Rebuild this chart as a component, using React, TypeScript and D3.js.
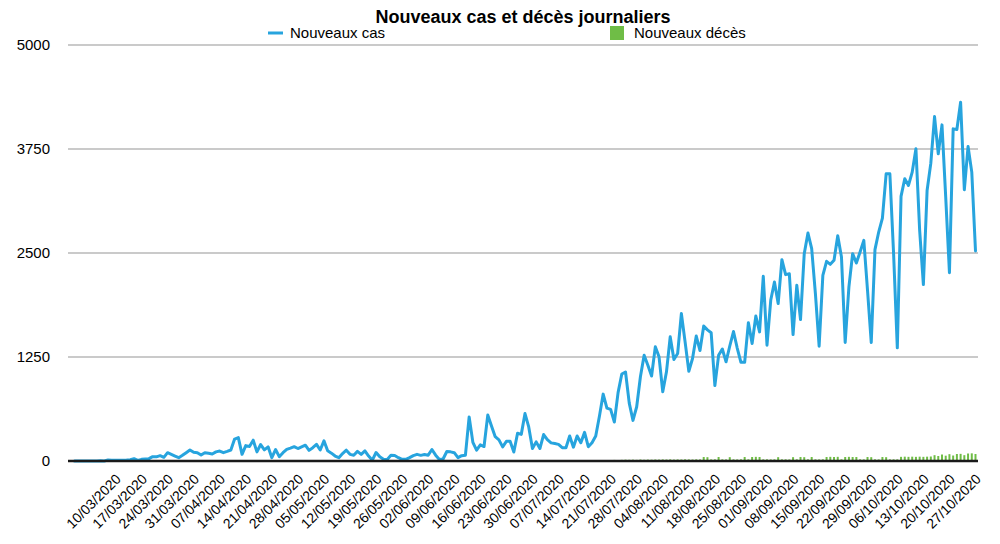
import React from "react";
import * as d3 from "d3";

const startDay = "2020-03-04";

const cases: number[] = [
  0, 0, 0, 0, 0, 0, 1, 2, 1, 11,
  10, 10, 9, 10, 12, 15, 28, 8, 20, 24,
  28, 52, 50, 64, 44, 100, 80, 60, 40, 68,
  100, 132, 104, 100, 72, 100, 92, 84, 110, 120,
  100, 115, 132, 264, 281, 80, 185, 175, 250, 110,
  198, 134, 170, 40, 138, 52, 100, 140, 155, 172,
  150, 170, 190, 128, 160, 200, 132, 242, 122, 94,
  60, 40, 90, 130, 80, 70, 116, 80, 122, 60,
  10, 102, 50, 22, 18, 68, 66, 40, 20, 20,
  40, 64, 80, 68, 78, 70, 138, 70, 18, 24,
  114, 110, 100, 40, 64, 70, 530, 224, 130, 194,
  174, 552, 420, 292, 254, 170, 236, 236, 108, 334,
  320, 570, 410, 150, 230, 150, 318, 256, 218, 210,
  200, 160, 160, 300, 166, 300, 220, 344, 172, 220,
  300, 540, 804, 636, 620, 468, 822, 1046, 1070, 696,
  488, 652, 1012, 1272, 1152, 1022, 1372, 1252, 832, 1072,
  1492, 1220, 1292, 1772, 1432, 1078, 1232, 1502, 1328, 1622,
  1576, 1542, 906, 1270, 1346, 1192, 1382, 1556, 1358, 1186,
  1186, 1662, 1412, 1742, 1552, 2220, 1392, 1932, 2152, 1892,
  2420, 2240, 2250, 1520, 2112, 1700, 2492, 2740, 2552, 2012,
  1380, 2232, 2400, 2364, 2412, 2708, 2452, 1424, 2092, 2492,
  2380, 2512, 2652, 2052, 1424, 2540, 2752, 2920, 3452, 3452,
  2492, 1360, 3180, 3392, 3312, 3472, 3752, 2772, 2120, 3252,
  3580, 4140, 3692, 4040, 3172, 2264, 3992, 3984, 4312, 3260,
  3780, 3472, 2524,
];

const deaths: number[] = [
  0, 0, 0, 0, 0, 0, 1, 0, 0, 1,
  0, 1, 0, 1, 0, 1, 1, 3, 2, 2,
  3, 4, 3, 3, 5, 3, 6, 5, 7, 9,
  10, 10, 8, 9, 6, 7, 8, 5, 6, 8,
  6, 5, 5, 6, 4, 5, 3, 4, 3, 4,
  2, 3, 2, 2, 3, 1, 2, 3, 2, 1,
  2, 1, 0, 2, 1, 3, 1, 2, 1, 0,
  1, 2, 1, 2, 1, 0, 1, 1, 2, 0,
  1, 1, 2, 1, 0, 1, 0, 1, 1, 1,
  0, 0, 1, 2, 1, 0, 1, 1, 0, 1,
  1, 0, 0, 1, 1, 0, 1, 2, 2, 1,
  1, 0, 2, 3, 1, 2, 1, 2, 3, 2,
  4, 3, 2, 4, 3, 5, 3, 4, 5, 6,
  3, 4, 5, 4, 6, 5, 8, 7, 9, 10,
  8, 11, 9, 12, 10, 13, 11, 14, 16, 15,
  16, 14, 18, 15, 17, 16, 18, 17, 19, 18,
  20, 17, 19, 18, 20, 19, 18, 20, 19, 48,
  46, 19, 20, 48, 20, 19, 46, 20, 19, 20,
  48, 20, 48, 50, 48, 20, 20, 19, 20, 46,
  20, 20, 19, 46, 20, 48, 46, 20, 48, 20,
  19, 20, 48, 50, 48, 50, 20, 48, 50, 48,
  48, 20, 19, 48, 46, 20, 19, 48, 46, 20,
  20, 20, 50, 52, 50, 52, 50, 52, 50, 52,
  54, 70, 60, 78, 64, 82, 66, 84, 86, 70,
  90, 92, 84,
];

const tickLabels: string[] = [
  "10/03/2020", "17/03/2020", "24/03/2020", "31/03/2020", "07/04/2020",
  "14/04/2020", "21/04/2020", "28/04/2020", "05/05/2020", "12/05/2020",
  "19/05/2020", "26/05/2020", "02/06/2020", "09/06/2020", "16/06/2020",
  "23/06/2020", "30/06/2020", "07/07/2020", "14/07/2020", "21/07/2020",
  "28/07/2020", "04/08/2020", "11/08/2020", "18/08/2020", "25/08/2020",
  "01/09/2020", "08/09/2020", "15/09/2020", "22/09/2020", "29/09/2020",
  "06/10/2020", "13/10/2020", "20/10/2020", "27/10/2020",
];

const yTicks: number[] = [0, 1250, 2500, 3750, 5000];

const title = "Nouveaux cas et décès journaliers";
const seriesNames = ["Nouveaux cas", "Nouveaux décès"];

const FONT = "'Liberation Sans', Arial, Helvetica, sans-serif";
const BLUE = "#27a4de";
const GREEN = "#6fbd46";

export default function App() {
  const parse = d3.timeParse("%Y-%m-%d");
  const fmt = d3.timeFormat("%d/%m/%Y");
  const start = parse(startDay) as Date;
  const dates = cases.map((_, i) => fmt(d3.timeDay.offset(start, i)));

  const left = 68;
  const right = 978;
  const x = d3.scalePoint<string>().domain(dates).range([74.5, 975.5]);
  const y = d3.scaleLinear().domain([0, 5000]).range([461, 45]);

  const line = d3
    .line<number>()
    .x((_, i) => x(dates[i]) as number)
    .y((d) => y(d));

  const barW = 2;

  return (
    <svg
      width={1000}
      height={544}
      style={{ position: "absolute", left: 0, top: 0, background: "#fff" }}
      fontFamily={FONT}
    >
      <rect x={0} y={0} width={1000} height={544} fill="#fff" />
      <text x={523} y={23} textAnchor="middle" fontSize={18} fontWeight="bold" fill="#000">
        {title}
      </text>

      {/* legend */}
      <line x1={268} x2={283} y1={33} y2={33} stroke={BLUE} strokeWidth={3} />
      <text x={290} y={33} dy="0.35em" fontSize={15} fill="#000">
        {seriesNames[0]}
      </text>
      <rect x={610} y={26} width={14} height={14} fill={GREEN} />
      <text x={634} y={33} dy="0.35em" fontSize={15} fill="#000">
        {seriesNames[1]}
      </text>

      {/* grid */}
      {yTicks.filter((t) => t > 0).map((t) => (
        <line key={t} x1={left} x2={right} y1={y(t)} y2={y(t)} stroke="#b8b8b8" strokeWidth={1.6} />
      ))}
      {yTicks.map((t) => (
        <text key={"l" + t} x={50} y={y(t)} dy="0.35em" textAnchor="end" fontSize={15} fill="#000">
          {t}
        </text>
      ))}

      {/* deaths bars */}
      {deaths.map((d, i) => (
        <rect
          key={"b" + i}
          x={(x(dates[i]) as number) - barW / 2}
          y={y(d)}
          width={barW}
          height={y(0) - y(d)}
          fill={GREEN}
        />
      ))}

      {/* cases line */}
      <path d={line(cases) || ""} fill="none" stroke={BLUE} strokeWidth={3} strokeLinejoin="round" strokeLinecap="round" />

      {/* x axis */}
      <line x1={left} x2={right} y1={y(0)} y2={y(0)} stroke="#1a1a1a" strokeWidth={2.7} />
      {tickLabels.map((lab) => {
        const px = (x(lab) as number) + 25;
        return (
          <text
            key={lab}
            transform={`translate(${px},480) rotate(-45)`}
            textAnchor="end"
            fontSize={14}
            fill="#000"
          >
            {lab}
          </text>
        );
      })}
    </svg>
  );
}
